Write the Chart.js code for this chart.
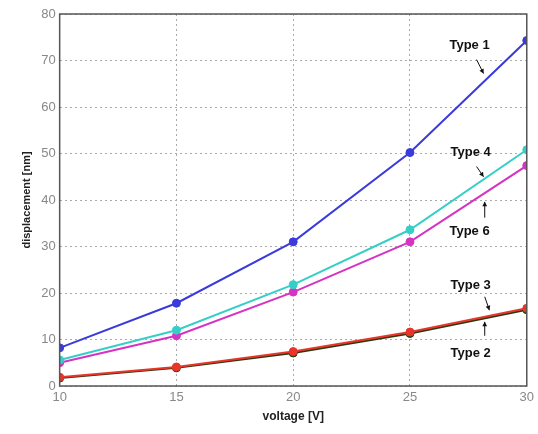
<!DOCTYPE html>
<html>
<head>
<meta charset="utf-8">
<script src="https://cdn.jsdelivr.net/npm/chart.js@4"></script>
<style>
  html, body { margin: 0; padding: 0; background: #fff; }
  #wrap { width: 538px; height: 434px; }
</style>
</head>
<body>
<div id="wrap"><canvas id="disp-chart"></canvas></div>
<script>
// voltage [V]
const voltages = [10, 15, 20, 25, 30];
// displacement [nm]
const type1 = [8.2, 17.8, 31.0, 50.2, 74.3];
const type2 = [1.7, 3.9, 7.1, 11.3, 16.4];
const type3 = [1.9, 4.1, 7.4, 11.6, 16.7];
const type4 = [5.6, 12.0, 21.8, 33.6, 50.8];
const type5 = [5.0, 10.8, 20.2, 31.0, 47.4];

const yTicks = [0, 10, 20, 30, 40, 50, 60, 70, 80];

// label text, where it sits, and its little arrow (in data units)
const labels = [
  { text: 'Type 1', x: 27.55, y: 73.2, ax: [27.85, 70.2, 28.15, 67.2] },
  { text: 'Type 4', x: 27.6, y: 50.2, ax: [27.85, 47.2, 28.15, 45.0] },
  { text: 'Type 6', x: 27.55, y: 33.3, ax: [28.2, 36.2, 28.2, 39.6] },
  { text: 'Type 3', x: 27.6, y: 21.6, ax: [28.2, 19.2, 28.4, 16.3] },
  { text: 'Type 2', x: 27.6, y: 7.0, ax: [28.2, 10.8, 28.2, 13.8] }
];

function series(label, data, color) {
  return {
    label: label,
    data: data.map((v, i) => ({ x: voltages[i], y: v })),
    borderColor: color,
    backgroundColor: color,
    pointBackgroundColor: color,
    pointBorderColor: color,
    borderWidth: 2,
    pointRadius: 4,
    pointBorderWidth: 1,
    tension: 0
  };
}

const framePlugin = {
  id: 'frame',
  afterDraw(chart) {
    const ctx = chart.ctx;
    const a = chart.chartArea;
    const xs = chart.scales.x;
    const ys = chart.scales.y;
    ctx.save();
    ctx.strokeStyle = '#555';
    ctx.lineWidth = 1.5;
    ctx.strokeRect(a.left, a.top, a.right - a.left, a.bottom - a.top);

    ctx.font = 'bold 13px "Liberation Sans", Arial, sans-serif';
    ctx.fillStyle = '#111';
    ctx.textAlign = 'center';
    ctx.textBaseline = 'middle';
    labels.forEach(l => {
      ctx.fillText(l.text, xs.getPixelForValue(l.x), ys.getPixelForValue(l.y));
      const x1 = xs.getPixelForValue(l.ax[0]);
      const y1 = ys.getPixelForValue(l.ax[1]);
      const x2 = xs.getPixelForValue(l.ax[2]);
      const y2 = ys.getPixelForValue(l.ax[3]);
      ctx.strokeStyle = '#111';
      ctx.lineWidth = 1;
      ctx.beginPath();
      ctx.moveTo(x1, y1);
      ctx.lineTo(x2, y2);
      ctx.stroke();
      const ang = Math.atan2(y2 - y1, x2 - x1);
      ctx.beginPath();
      ctx.moveTo(x2, y2);
      ctx.lineTo(x2 - 5 * Math.cos(ang - 0.5), y2 - 5 * Math.sin(ang - 0.5));
      ctx.lineTo(x2 - 5 * Math.cos(ang + 0.5), y2 - 5 * Math.sin(ang + 0.5));
      ctx.closePath();
      ctx.fill();
    });
    ctx.restore();
  }
};

const ctx = document.getElementById('disp-chart').getContext('2d');
const chart = new Chart(ctx, {
  type: 'line',
  data: {
    // first dataset is drawn on top
    datasets: [
      series('Type 1', type1, '#3b3bdc'),
      series('Type 4', type4, '#35cfc8'),
      series('Type 5', type5, '#d633c4'),
      series('Type 3', type3, '#e8352a'),
      series('Type 2', type2, '#2a3a10')
    ]
  },
  options: {
    responsive: true,
    maintainAspectRatio: false,
    animation: false,
    layout: { padding: { top: 14, right: 10, left: 20, bottom: 10 } },
    plugins: {
      legend: { display: false },
      tooltip: { enabled: false }
    },
    scales: {
      x: {
        type: 'linear',
        min: 10,
        max: 30,
        afterBuildTicks: axis => { axis.ticks = voltages.map(v => ({ value: v })); },
        grid: { color: '#aaa', drawTicks: false },
        border: { display: false, dash: [2, 3] },
        ticks: { color: '#888', font: { size: 13, family: '"Liberation Sans", Arial' }, padding: 4, maxRotation: 0 },
        title: { display: true, text: 'voltage [V]', color: '#222', font: { size: 12, weight: 'bold', family: '"Liberation Sans", Arial' }, padding: { top: 0, bottom: 0 } }
      },
      y: {
        min: 0,
        max: 80,
        afterBuildTicks: axis => { axis.ticks = yTicks.map(v => ({ value: v })); },
        grid: { color: '#aaa', drawTicks: false },
        border: { display: false, dash: [2, 3] },
        ticks: { color: '#888', font: { size: 13, family: '"Liberation Sans", Arial' }, padding: 4 },
        title: { display: true, text: 'displacement [nm]', color: '#222', font: { size: 11, weight: 'bold', family: '"Liberation Sans", Arial' }, padding: { top: 0, bottom: 4 } }
      }
    }
  },
  plugins: [framePlugin]
});
</script>
</body>
</html>
